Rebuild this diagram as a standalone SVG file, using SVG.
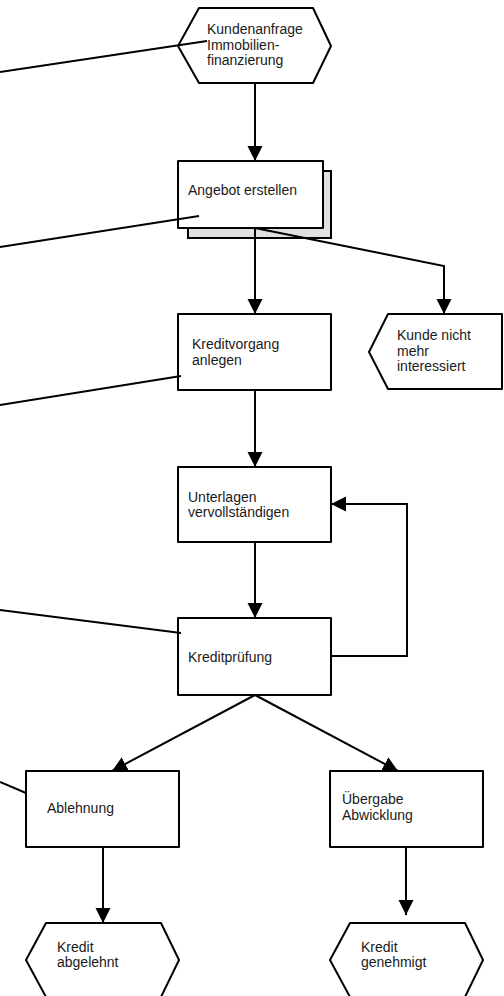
<svg xmlns="http://www.w3.org/2000/svg" width="504" height="996" viewBox="0 0 504 996">
<style>
.n{fill:#fff;stroke:#000;stroke-width:2;stroke-linejoin:round}
.sh{fill:#e0e0e0;stroke:#000;stroke-width:2}
.t{font-family:"Liberation Sans",Arial,sans-serif;font-size:14px;fill:#1a1a1a}
.c{fill:none;stroke:#000;stroke-width:2}
</style>
<defs>
<marker id="ah" markerUnits="userSpaceOnUse" markerWidth="16" markerHeight="16" refX="15" refY="7.5" orient="auto">
<path d="M0,0 L15,7.5 L0,15 z" fill="#000"/>
</marker>
</defs>
<g id="n1">
<polygon class="n" points="199,8 313,8 331,46 313,83 199,83 178,46"/>
<text class="t" x="207" y="34">Kundenanfrage</text>
<text class="t" x="207" y="49.5">Immobilien-</text>
<text class="t" x="207" y="65">finanzierung</text>
</g>
<g id="n2">
<rect class="sh" x="188" y="171" width="143" height="67"/>
<rect class="n" x="178" y="161" width="145" height="67"/>
<text class="t" x="188" y="195">Angebot erstellen</text>
</g>
<g id="n3">
<rect class="n" x="178" y="314" width="153" height="76"/>
<text class="t" x="192" y="349">Kreditvorgang</text>
<text class="t" x="192" y="364.5">anlegen</text>
</g>
<g id="n4">
<polygon class="n" points="388,314 502,314 502,389 388,389 369,352"/>
<text class="t" x="397" y="340">Kunde nicht</text>
<text class="t" x="397" y="355.5">mehr</text>
<text class="t" x="397" y="371">interessiert</text>
</g>
<g id="n5">
<rect class="n" x="178" y="467" width="153" height="75"/>
<text class="t" x="188" y="502">Unterlagen</text>
<text class="t" x="188" y="517">vervollständigen</text>
</g>
<g id="n6">
<rect class="n" x="178" y="618" width="153" height="77"/>
<text class="t" x="188" y="662">Kreditprüfung</text>
</g>
<g id="n7">
<rect class="n" x="26" y="771" width="153" height="76"/>
<text class="t" x="47" y="813">Ablehnung</text>
</g>
<g id="n8">
<rect class="n" x="330" y="771" width="153" height="76"/>
<text class="t" x="342" y="804">Übergabe</text>
<text class="t" x="342" y="819.5">Abwicklung</text>
</g>
<g id="n9">
<polygon class="n" points="46,923 161,923 179,960 161,997 46,997 26,960"/>
<text class="t" x="57" y="951.5">Kredit</text>
<text class="t" x="57" y="967">abgelehnt</text>
</g>
<g id="n10">
<polygon class="n" points="350,923 465,923 483,960 465,997 350,997 330,960"/>
<text class="t" x="361" y="951.5">Kredit</text>
<text class="t" x="361" y="967">genehmigt</text>
</g>
<g id="connectors">
<path class="c" d="M255,83 L255,161" marker-end="url(#ah)"/>
<path class="c" d="M255,228 L255,314" marker-end="url(#ah)"/>
<path class="c" d="M255,228 L444,266 L444,314" marker-end="url(#ah)"/>
<path class="c" d="M255,390 L255,467" marker-end="url(#ah)"/>
<path class="c" d="M255,542 L255,618" marker-end="url(#ah)"/>
<path class="c" d="M331,656 L407,656 L407,504 L331,504" marker-end="url(#ah)"/>
<path class="c" d="M255,695 L112,771" marker-end="url(#ah)"/>
<path class="c" d="M255,695 L398,771" marker-end="url(#ah)"/>
<path class="c" d="M103,847 L103,923" marker-end="url(#ah)"/>
<path class="c" d="M406,847 L406,915" marker-end="url(#ah)"/>
<path class="c" d="M0,72 L207,41"/>
<path class="c" d="M0,247 L199,216"/>
<path class="c" d="M0,405 L181,376"/>
<path class="c" d="M0,610 L181,633"/>
<path class="c" d="M0,782 L26,793"/>
</g>
</svg>
